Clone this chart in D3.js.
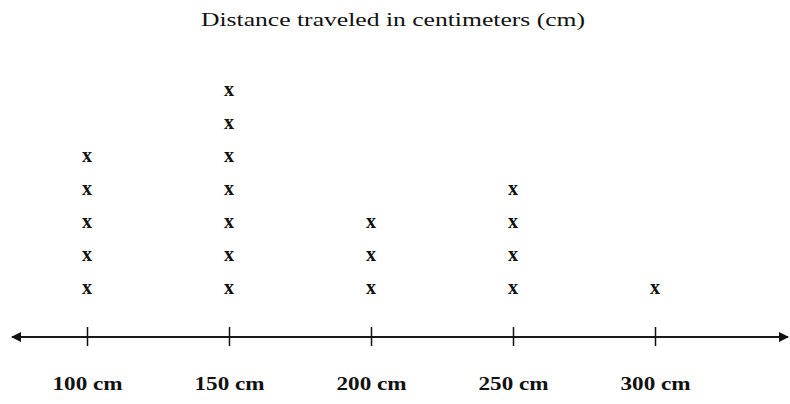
<!DOCTYPE html>
<html>
<head>
<meta charset="utf-8">
<script src="https://cdn.jsdelivr.net/npm/d3@7"></script>
<style>
  body { margin: 0; background: #fff; }
  svg { display: block; }
</style>
</head>
<body>
<div id="chart"></div>
<script>
const width = 790;
const height = 404;

// distances on the number line and how many x's sit above each one
const distances = [100, 150, 200, 250, 300];
const counts = [5, 7, 3, 4, 1];
const tickLabels = ["100 cm", "150 cm", "200 cm", "250 cm", "300 cm"];
const title = "Distance traveled in centimeters (cm)";

const axisY = 337;

const x = d3.scaleLinear()
    .domain([100, 300])
    .range([87, 655]);

// stack position 1..7 -> vertical position
const y = d3.scaleLinear()
    .domain([1, 7])
    .range([287, 89]);

const svg = d3.select("#chart").append("svg")
    .attr("width", width)
    .attr("height", height)
    .attr("viewBox", [0, 0, width, height]);

svg.append("defs").selectAll("marker")
  .data(["start", "end"])
  .join("marker")
    .attr("id", d => `arrow-${d}`)
    .attr("viewBox", "0 -5 10 10")
    .attr("refX", 9)
    .attr("refY", 0)
    .attr("markerWidth", 6)
    .attr("markerHeight", 5)
    .attr("markerUnits", "strokeWidth")
    .attr("orient", "auto-start-reverse")
  .append("path")
    .attr("fill", "#111")
    .attr("d", "M0,-5L10,0L0,5Z");

svg.append("text")
    .attr("x", 393)
    .attr("y", 26)
    .attr("text-anchor", "middle")
    .attr("textLength", 384)
    .attr("lengthAdjust", "spacingAndGlyphs")
    .style("font", "19px 'Liberation Serif', serif")
    .attr("fill", "#111")
    .text(title);

// number line with arrows at both ends
svg.append("line")
    .attr("x1", 12)
    .attr("x2", 788)
    .attr("y1", axisY)
    .attr("y2", axisY)
    .attr("stroke", "#1a1a1a")
    .attr("stroke-width", 2)
    .attr("marker-start", "url(#arrow-start)")
    .attr("marker-end", "url(#arrow-end)");

const xAxis = d3.axisBottom(x)
    .tickValues(distances)
    .tickSize(0)
    .tickFormat((d, i) => tickLabels[i]);

const gx = svg.append("g")
    .attr("transform", `translate(0,${axisY})`)
    .call(xAxis);

gx.select(".domain").remove();

gx.selectAll(".tick line")
    .attr("y1", -10)
    .attr("y2", 9)
    .attr("stroke", "#111")
    .attr("stroke-width", 1.5);

gx.selectAll(".tick text")
    .attr("y", 53)
    .attr("dy", 0)
    .attr("fill", "#111")
    .attr("textLength", 70)
    .attr("lengthAdjust", "spacingAndGlyphs")
    .style("font", "bold 18px 'Liberation Serif', serif");

// one x mark per observation
const marks = distances.flatMap((d, i) => d3.range(1, counts[i] + 1).map(k => ({dist: d, k})));

svg.append("g")
  .selectAll("text")
  .data(marks)
  .join("text")
    .attr("x", d => x(d.dist))
    .attr("y", d => y(d.k))
    .attr("text-anchor", "middle")
    .attr("dominant-baseline", "central")
    .attr("fill", "#111")
    .style("font", "bold 20px 'Liberation Serif', serif")
    .text("x");
</script>
</body>
</html>
